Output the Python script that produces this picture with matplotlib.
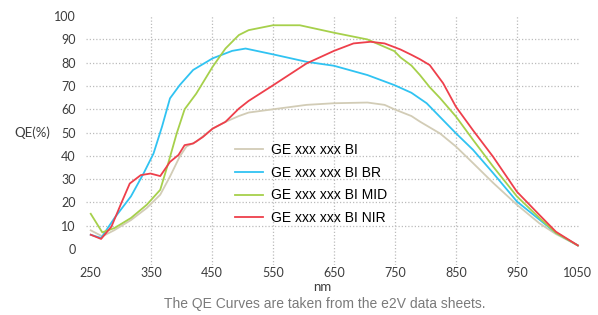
import matplotlib
matplotlib.use("Agg")
import matplotlib.pyplot as plt

# QE curves (wavelength in nm, QE in %)
bi_nm = [251, 270, 290, 317, 343, 365, 381, 397, 408, 424, 451, 472, 494, 510,
         550, 605, 650, 705, 733, 749, 777, 791, 824, 850, 878, 911, 950, 987,
         1014, 1050]
bi_qe = [8.0, 5.4, 8.1, 12.4, 17.6, 23.3, 31.1, 39.7, 44.0, 46.1, 51.7, 54.6,
         57.1, 58.6, 60.0, 61.9, 62.6, 62.9, 61.9, 60.0, 57.1, 54.7, 49.6, 44.0,
         36.9, 28.4, 19.0, 11.0, 6.4, 1.5]

br_nm = [251, 268, 290, 317, 338, 354, 368, 381, 397, 419, 451, 483, 505, 550,
         605, 650, 705, 749, 777, 802, 850, 878, 911, 950, 987, 1014, 1050]
br_qe = [6.1, 4.7, 13.3, 22.6, 32.6, 41.0, 52.6, 64.7, 70.4, 76.9, 81.9, 85.1,
         86.1, 83.6, 80.4, 78.7, 74.7, 70.4, 67.1, 62.6, 49.7, 42.6, 32.6, 20.4,
         12.6, 6.9, 1.5]

mid_nm = [251, 270, 290, 317, 343, 365, 378, 392, 405, 424, 451, 472, 494, 510,
          550, 594, 650, 705, 749, 759, 777, 791, 807, 824, 850, 878, 911, 950,
          987, 1014, 1050]
mid_qe = [15.1, 7.1, 9.0, 13.3, 19.0, 25.4, 36.7, 49.6, 60.0, 66.7, 78.3, 86.1,
          91.9, 94.0, 96.1, 96.1, 92.9, 90.0, 85.0, 82.3, 78.8, 74.7, 69.5, 64.8,
          56.9, 46.9, 35.4, 22.6, 13.3, 6.9, 1.5]

nir_nm = [251, 268, 285, 301, 315, 333, 349, 365, 381, 395, 405, 419, 435, 451,
          472, 494, 510, 550, 605, 650, 682, 710, 733, 759, 777, 791, 807, 829,
          850, 878, 911, 950, 987, 1014, 1050]
nir_qe = [6.1, 4.3, 9.6, 19.6, 28.1, 31.7, 32.4, 31.3, 37.4, 40.4, 44.6, 45.3,
          48.1, 51.7, 54.6, 60.3, 63.6, 70.3, 79.7, 85.1, 88.3, 89.0, 88.3, 85.7,
          83.4, 81.5, 79.0, 71.2, 61.1, 51.0, 39.6, 24.6, 14.6, 7.4, 1.5]

series = [
    ("GE xxx xxx BI", bi_nm, bi_qe, "#d2ccb6"),
    ("GE xxx xxx BI BR", br_nm, br_qe, "#30c3f2"),
    ("GE xxx xxx BI MID", mid_nm, mid_qe, "#a6d04b"),
    ("GE xxx xxx BI NIR", nir_nm, nir_qe, "#ee3f4b"),
]

x_ticks = [250, 350, 450, 550, 650, 750, 850, 950, 1050]
y_ticks = [0, 10, 20, 30, 40, 50, 60, 70, 80, 90, 100]

fig = plt.figure(figsize=(5.98, 3.15), dpi=100)
ax = fig.add_axes([0.1405, 0.158, 0.836, 0.798])
ax.set_xlim(240, 1060)
ax.set_ylim(-7, 101)

grid_kw = dict(color="#bcbcbc", lw=0.9, linestyles=(0, (1, 1.6)), zorder=0)
ax.hlines(y_ticks[1:-1], 243, 1053, **grid_kw)
ax.vlines(x_ticks[1:-1], -7, 100, **grid_kw)

for label, xs, ys, color in series:
    ax.plot(xs, ys, color=color, lw=1.3, label=label, zorder=2)

for s in ax.spines.values():
    s.set_visible(False)

tick_font = dict(family="Lato", size=9, color="#3c3c3c")
ax.set_xticks(x_ticks)
ax.set_xticklabels([str(v) for v in x_ticks], fontdict=tick_font)
ax.set_yticks(y_ticks)
ax.set_yticklabels([str(v) for v in y_ticks], fontdict=tick_font)
ax.tick_params(length=0)
ax.tick_params(axis="y", pad=6)
ax.tick_params(axis="x", pad=1)

fig.text(32 / 598, 1 - 133 / 315, "QE(%)", ha="center", va="center",
         family="Lato", size=9.5, color="#3c3c3c")
fig.text(322 / 598, 1 - 287 / 315, "nm", ha="center", va="center",
         family="Lato", size=9.5, color="#3c3c3c")
fig.text(325 / 598, 1 - 304 / 315,
         "The QE Curves are taken from the e2V data sheets.",
         ha="center", va="center", family="Liberation Sans", size=10,
         color="#7a7a7a")

ax.legend(loc="upper left", bbox_to_anchor=(235 / 598, 1 - 143 / 315),
          bbox_transform=fig.transFigure, frameon=False, borderpad=0,
          borderaxespad=0, handlelength=2.0, handletextpad=0.6,
          labelspacing=0.63,
          prop=dict(family="Liberation Sans", size=10))

fig.savefig("out.png", dpi=100)
